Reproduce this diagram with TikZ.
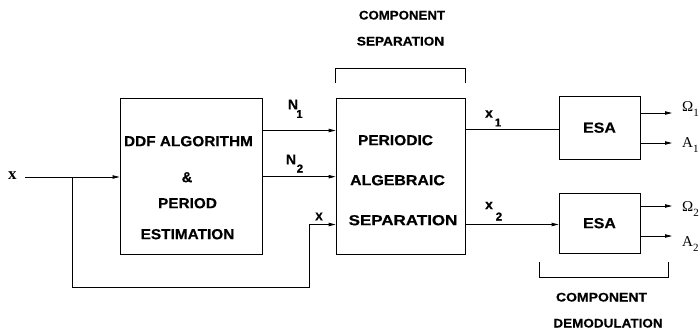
\documentclass[tikz,border=0pt]{standalone}
\usepackage{fontspec}
\usepackage{graphicx}
\setmainfont{Liberation Serif}
\newfontfamily\lab{Liberation Sans}[BoldFeatures={FakeBold=0.4}]
\usetikzlibrary{arrows.meta}
\tikzset{
  wire/.style={line width=0.8pt},
  arr/.style={wire,-{Triangle[length=7pt,width=3.4pt]}},
  block/.style={draw,line width=0.8pt,inner sep=0pt},
  boxtext/.style={font=\lab\bfseries\fontsize{14.5}{14.5}\selectfont,inner sep=0pt,text height=10.4pt,text depth=0pt},
  headtext/.style={font=\lab\bfseries\fontsize{12.5}{12.5}\selectfont,inner sep=0pt,text height=9pt,text depth=0pt},
  sym/.style={font=\lab\bfseries\fontsize{14}{14}\selectfont,inner sep=0pt},
  sub/.style={font=\lab\bfseries\fontsize{11.5}{11.5}\selectfont,inner sep=0pt},
  outlab/.style={font=\fontsize{15}{15}\selectfont,inner sep=0pt,anchor=west},
}
% horizontally widened label text
\newcommand{\wide}[2]{\scalebox{#1}[1]{#2}}
\newcommand{\outsub}[1]{\raisebox{-0.7ex}{\fontsize{11}{11}\selectfont #1}}
\begin{document}
\begin{tikzpicture}[x=1pt,y=-1pt]
\useasboundingbox (0,0) rectangle (700,335);

% blocks
\node[block,minimum width=142pt,minimum height=156pt] (ddf) at (191,176) {};
\node[block,minimum width=129pt,minimum height=156pt] (pas) at (400.5,176) {};
\node[block,minimum width=81pt,minimum height=63pt] (esa1) at (599.5,127.5) {};
\node[block,minimum width=81pt,minimum height=60pt] (esa2) at (599.5,223) {};

% block texts
\node[boxtext] (t1) at (188.5,141) {\wide{1.06}{DDF ALGORITHM}};
\node[boxtext] (t2) at (187,177) {\&};
\node[boxtext] (t3) at (187.5,203) {\wide{1.06}{PERIOD}};
\node[boxtext] (t4) at (187.5,234) {\wide{1.06}{ESTIMATION}};
\node[boxtext] (t5) at (395.5,140) {\wide{1.07}{PERIODIC}};
\node[boxtext] (t6) at (397.5,180) {\wide{1.1}{ALGEBRAIC}};
\node[boxtext] (t7) at (403,220) {\wide{1.17}{SEPARATION}};
\node[boxtext] (t8) at (esa1) {\wide{1.1}{ESA}};
\node[boxtext] (t9) at (esa2) {\wide{1.1}{ESA}};

% input and feedback path
\node[font=\bfseries\fontsize{17}{17}\selectfont,inner sep=0pt] (xin) at (12.5,175.5) {x};
\coordinate (src) at (25,177);
\coordinate (br) at (72,177);
\coordinate (fb1) at (72,287);
\coordinate (fb2) at (309,287);
\coordinate (fb3) at (309,224.5);
\draw[arr] (src) -- (ddf.west |- src);
\draw[wire] (br) -- (fb1) -- (fb2) -- (fb3);
\draw[arr] (fb3) -- (pas.west |- fb3);
\node[font=\lab\bfseries\fontsize{11.5}{11.5}\selectfont,inner sep=0pt] (xl) at (319,216.5) {X};

% period estimates
\coordinate (n1) at (ddf.east |- 0,130.5);
\coordinate (n2) at (ddf.east |- 0,176.7);
\draw[arr] (n1) -- (pas.west |- n1);
\draw[arr] (n2) -- (pas.west |- n2);
\node[sym] (N1) at (293,104.5) {N};
\node[sub] (N1s) at (299.5,114) {1};
\node[sym] (N2) at (291,159.5) {N};
\node[sub] (N2s) at (300,168.5) {2};

% separated components
\coordinate (c1) at (pas.east |- 0,129);
\coordinate (c2) at (pas.east |- 0,224.5);
\draw[wire] (c1) -- (esa1.west |- c1);
\draw[arr] (c2) -- (esa2.west |- c2);
\node[sym] (x1) at (489,114) {x};
\node[sub] (x1s) at (498,122.5) {1};
\node[sym] (x2) at (489,205.5) {x};
\node[sub] (x2s) at (499,216.5) {2};

% outputs
\coordinate (o1) at (672,113);
\coordinate (o2) at (672,143);
\coordinate (o3) at (672,206);
\coordinate (o4) at (672,236);
\draw[arr] (esa1.east |- o1) -- (o1);
\draw[arr] (esa1.east |- o2) -- (o2);
\draw[arr] (esa2.east |- o3) -- (o3);
\draw[arr] (esa2.east |- o4) -- (o4);
\node[outlab] (W1) at (682,109) {Ω\outsub{1}};
\node[outlab] (A1) at (682,145) {A\outsub{1}};
\node[outlab] (W2) at (682,209) {Ω\outsub{2}};
\node[outlab] (A2) at (682,244) {A\outsub{2}};

% brackets with captions
\draw[wire] (pas.west |- 0,83) -- (pas.west |- 0,68) -- (pas.east |- 0,68) -- (pas.east |- 0,83);
\node[headtext] (h1) at (402,15) {\wide{1.06}{COMPONENT}};
\node[headtext] (h2) at (400.5,41) {\wide{1.09}{SEPARATION}};
\draw[wire] (539,262) -- (539,277) -- (668,277) -- (668,262);
\node[headtext] (h3) at (601.5,297) {\wide{1.12}{COMPONENT}};
\node[headtext] (h4) at (608,323) {\wide{1.08}{DEMODULATION}};
\end{tikzpicture}
\end{document}
